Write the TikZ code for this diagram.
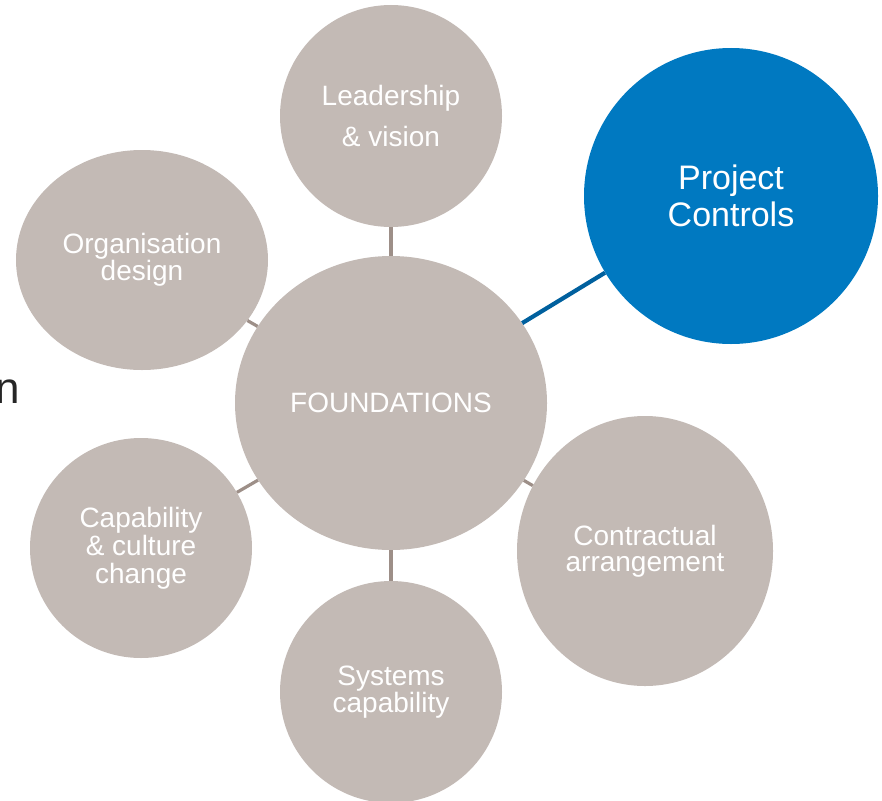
\documentclass[tikz,border=0pt]{standalone}
\usepackage{fontspec}
\setmainfont{Liberation Sans}
\usetikzlibrary{shapes.geometric}
\definecolor{bubble}{HTML}{C3BAB5}
\definecolor{bluebubble}{HTML}{0079C1}
\definecolor{linkgray}{HTML}{9D8F88}
\definecolor{linkblue}{HTML}{00609E}
\definecolor{darktext}{HTML}{262626}
\tikzset{
  bub/.style={ellipse, fill=bubble, draw=none, inner sep=0pt, text=white, align=center},
  bluebub/.style={bub, fill=bluebubble},
  glink/.style={draw=linkgray, line width=3.2pt},
  blink/.style={draw=linkblue, line width=4.2pt}
}
\begin{document}
\begin{tikzpicture}[x=1pt,y=-1pt]
\useasboundingbox (0,0) rectangle (882,800);
\node[bub, minimum width=312pt, minimum height=294pt, font=\fontsize{28}{32}\selectfont] (c) at (391,403) {FOUNDATIONS};
\node[bub, minimum width=222pt, minimum height=222pt, font=\fontsize{28}{41}\selectfont] (lead) at (391,116) {Leadership\\\& vision};
\node[bluebub, minimum width=294pt, minimum height=296pt, font=\fontsize{34}{37}\selectfont] (pc) at (731,196) {Project\\Controls};
\node[bub, minimum width=252pt, minimum height=220pt, font=\fontsize{28}{25}\selectfont] (org) at (142,260) {Organisation\\design};
\node[bub, minimum width=222pt, minimum height=220pt, font=\fontsize{28}{28}\selectfont] (cap) at (141,548) {Capability\\\& culture\\change};
\node[bub, minimum width=222pt, minimum height=222pt, font=\fontsize{28}{27}\selectfont] (sys) at (391,692) {Systems\\capability};
\node[bub, minimum width=256pt, minimum height=270pt, font=\fontsize{28}{26}\selectfont] (con) at (645,551) {Contractual\\arrangement};
\node[anchor=base west, inner sep=0pt, text=darktext, font=\fontsize{44}{48}\selectfont] (frag) at (-4.5,403) {n};
\draw[glink] (c) -- (lead);
\draw[glink] (c) -- (org);
\draw[glink] (c) -- (cap);
\draw[glink] (c) -- (sys);
\draw[glink] (c) -- (con);
\draw[blink] (c) -- (pc);
\end{tikzpicture}
\end{document}
